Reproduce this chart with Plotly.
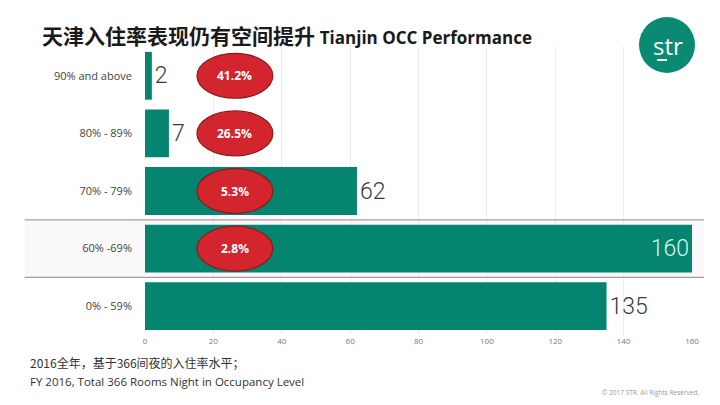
import plotly.graph_objects as go

# occupancy bands, top to bottom
bands = ["90% and above", "80% - 89%", "70% - 79%", "60% -69%", "0% - 59%"]
nights = [2, 7, 62, 160, 135]
pct_labels = ["41.2%", "26.5%", "5.3%", "2.8%"]
x_ticks = [0, 20, 40, 60, 80, 100, 120, 140, 160]

teal = "#05846f"
red = "#d3252e"

text_pos = ["inside" if v == max(nights) else "outside" for v in nights]
text_col = ["#d4f7ef" if v == max(nights) else "#3a3a3a" for v in nights]

fig = go.Figure()
fig.add_trace(go.Bar(
    x=nights, y=bands, orientation="h",
    marker=dict(color=teal, line=dict(width=0)),
    text=[str(v) for v in nights],
    textposition=text_pos,
    insidetextanchor="end",
    textfont=dict(size=23, color=text_col, family="Roboto", weight=300),
    constraintext="none",
    cliponaxis=False,
    hoverinfo="skip",
))

shapes = []
annotations = []

# highlighted row for 60%-69%
hl = bands.index("60% -69%")
shapes.append(dict(type="rect", xref="paper", yref="y", x0=-0.22, x1=1.022,
                   y0=hl - 0.5, y1=hl + 0.5, fillcolor="#f9f9f9",
                   line=dict(width=0), layer="below"))
for yy in (hl - 0.5, hl + 0.5):
    shapes.append(dict(type="line", xref="paper", yref="y", x0=-0.22, x1=1.022,
                       y0=yy, y1=yy, line=dict(color="#a89c9c", width=1.2)))

# red ellipses with percentages
for i, p in enumerate(pct_labels):
    shapes.append(dict(type="circle", xref="x", yref="y", x0=15.2, x1=37.4,
                       y0=i - 0.39, y1=i + 0.39, fillcolor=red,
                       line=dict(color="#8a1a1c", width=1.2)))
    annotations.append(dict(x=26.3, y=i, xref="x", yref="y", text="<b>" + p + "</b>",
                            showarrow=False,
                            font=dict(size=12, color="white", family="Open Sans")))

# logo
shapes.append(dict(type="circle", xref="paper", yref="paper",
                   x0=(639 - 145) / 547, x1=(695 - 145) / 547,
                   y0=(335 - 73) / 288, y1=(335 - 17) / 288,
                   fillcolor="#0a8a72", line=dict(width=0)))
shapes.append(dict(type="line", xref="paper", yref="paper",
                   x0=(657 - 145) / 547, x1=(667 - 145) / 547,
                   y0=(335 - 60) / 288, y1=(335 - 60) / 288,
                   line=dict(color="white", width=2)))
annotations.append(dict(x=(668 - 145) / 547, y=(335 - 46) / 288, xref="paper", yref="paper",
                        xanchor="center", yanchor="middle",
                        text="str", showarrow=False,
                        font=dict(size=24, color="white", family="Open Sans")))

# title
annotations.append(dict(
    x=(40 - 145) / 547, y=(335 - 35) / 288, xref="paper", yref="paper",
    xanchor="left", yanchor="middle", showarrow=False,
    text="<b>天津入住率表现仍有空间提升</b> <b><span style='font-family:Open Sans;font-size:17px'>Tianjin OCC Performance</span></b>",
    font=dict(size=21, color="#1a1a1a", family="Noto Sans CJK SC"),
))

# footer
annotations.append(dict(
    x=(28 - 145) / 547, y=(335 - 362) / 288, xref="paper", yref="paper",
    xanchor="left", yanchor="middle", showarrow=False,
    text="2016全年，基于366间夜的入住率水平；",
    font=dict(size=12, color="#333333", family="Noto Sans CJK SC"),
))
annotations.append(dict(
    x=(28 - 145) / 547, y=(335 - 381) / 288, xref="paper", yref="paper",
    xanchor="left", yanchor="middle", showarrow=False,
    text="FY 2016, Total 366 Rooms Night in Occupancy Level",
    font=dict(size=11.5, color="#333333", family="Open Sans"),
))
annotations.append(dict(
    x=(701 - 145) / 547, y=(335 - 392) / 288, xref="paper", yref="paper",
    xanchor="right", yanchor="middle", showarrow=False,
    text="© 2017 STR. All Rights Reserved.",
    font=dict(size=6.5, color="#999999", family="Open Sans"),
))

fig.update_layout(
    width=720, height=405,
    margin=dict(l=145, r=28, t=47, b=70, autoexpand=False),
    paper_bgcolor="white", plot_bgcolor="rgba(0,0,0,0)",
    showlegend=False,
    bargap=0.17,
    shapes=shapes,
    annotations=annotations,
    xaxis=dict(range=[0, 160], tickvals=x_ticks, showgrid=True, gridcolor="#ececec",
               gridwidth=1, zeroline=False, showline=False,
               tickfont=dict(size=8, color="#777777", family="Open Sans"),
               ticks="", fixedrange=True),
    yaxis=dict(autorange="reversed", showgrid=False, zeroline=False, showline=False,
               ticks="", ticklabelstandoff=12, fixedrange=True,
               tickfont=dict(size=11, color="#444444", family="Open Sans")),
)

# drop the page's default body margin so the figure fills the window
fig.write_html("out.html", config={"displayModeBar": False},
               post_script="document.body.style.margin='0';")
